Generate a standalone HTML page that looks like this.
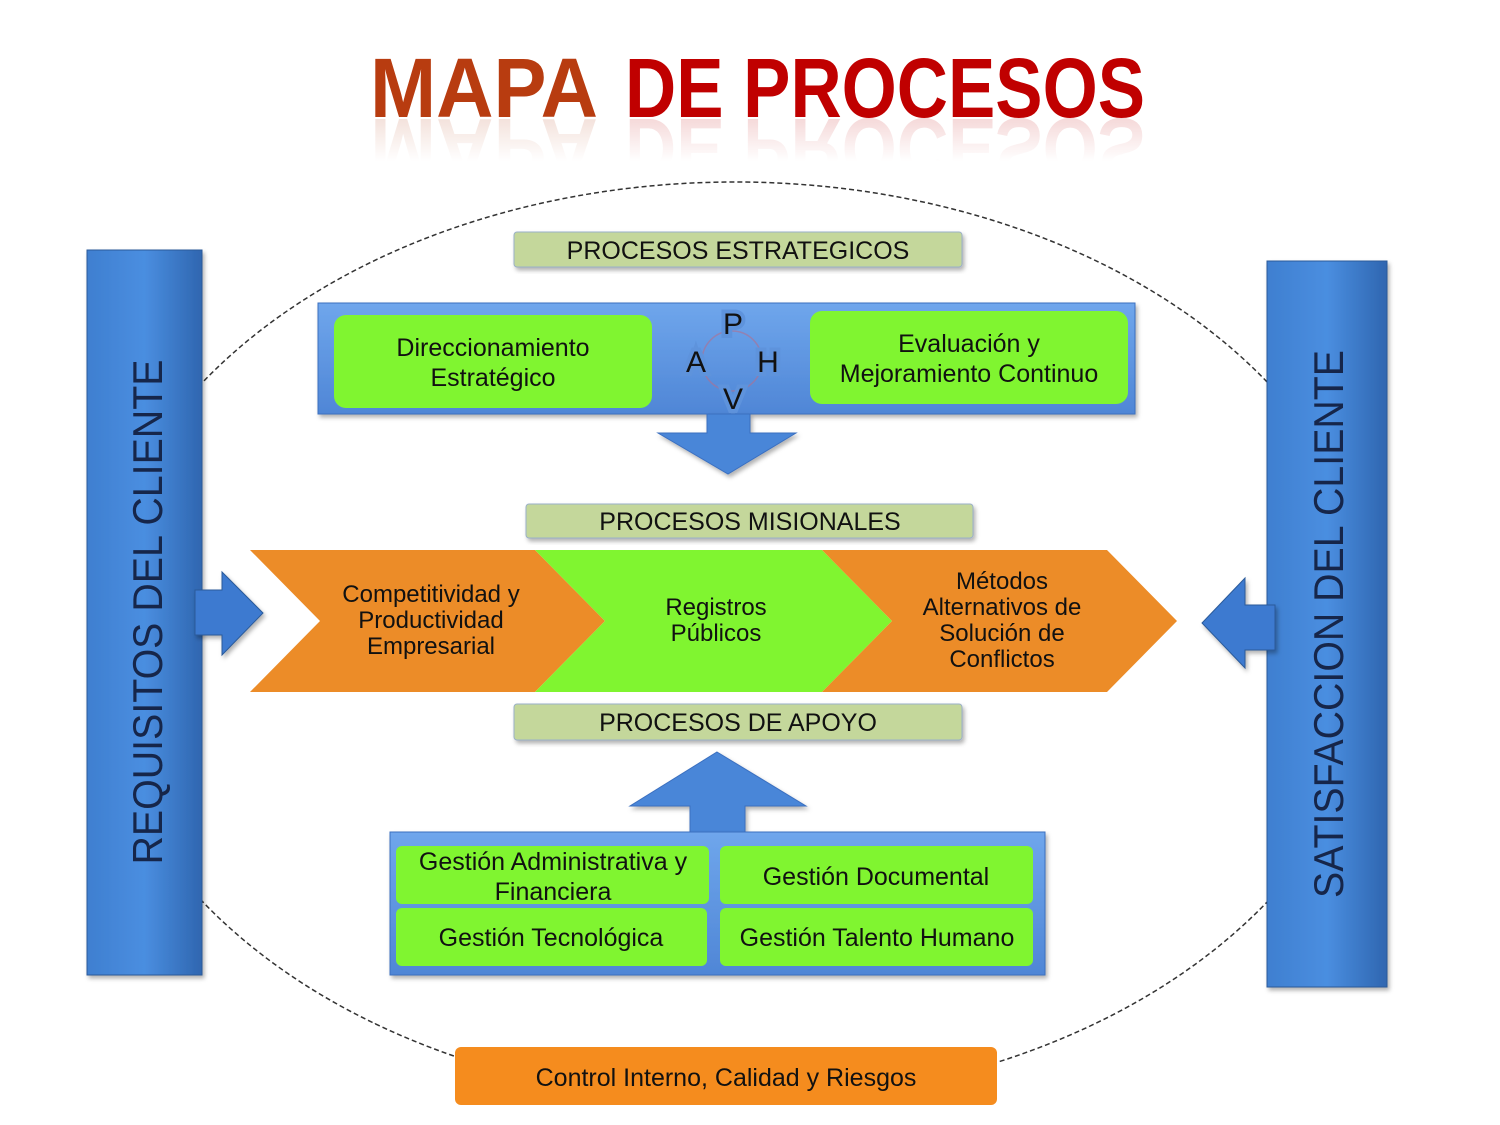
<!DOCTYPE html>
<html><head><meta charset="utf-8"><style>
html,body{margin:0;padding:0;background:#fff;}
svg{display:block;}
text{font-family:"Liberation Sans",sans-serif;}
</style></head><body>
<svg width="1500" height="1125" viewBox="0 0 1500 1125" xmlns="http://www.w3.org/2000/svg">
<defs>
<linearGradient id="bar" x1="0" y1="0" x2="1" y2="0">
<stop offset="0" stop-color="#3f7fd0"/><stop offset="0.5" stop-color="#4a8ee0"/><stop offset="1" stop-color="#2f66b0"/></linearGradient>
<linearGradient id="box" x1="0" y1="0" x2="0" y2="1">
<stop offset="0" stop-color="#6fa6ec"/><stop offset="1" stop-color="#4f86d6"/></linearGradient>
<linearGradient id="refl" x1="0" y1="0" x2="0" y2="1">
<stop offset="0" stop-color="#fff" stop-opacity="0.2"/><stop offset="0.7" stop-color="#fff" stop-opacity="1"/><stop offset="1" stop-color="#fff" stop-opacity="1"/></linearGradient>
<filter id="sh" x="-10%" y="-10%" width="130%" height="130%"><feDropShadow dx="2" dy="3" stdDeviation="2" flood-color="#000" flood-opacity="0.3"/></filter>
</defs>

<!-- Title -->
<g font-weight="bold" font-size="84">
<text x="370" y="117" fill="#b83c10" textLength="228" lengthAdjust="spacingAndGlyphs">MAPA</text>
<text x="625" y="117" fill="#c00000" textLength="520" lengthAdjust="spacingAndGlyphs">DE PROCESOS</text>
<g transform="translate(0,236) scale(1,-1)" opacity="0.18">
<text x="370" y="117" fill="#b83c10" textLength="228" lengthAdjust="spacingAndGlyphs">MAPA</text>
<text x="625" y="117" fill="#c00000" textLength="520" lengthAdjust="spacingAndGlyphs">DE PROCESOS</text>
</g>
</g>
<rect x="360" y="119" width="800" height="60" fill="url(#refl)"/>

<!-- dashed ellipse -->
<ellipse cx="735" cy="642" rx="645" ry="460" fill="none" stroke="#333" stroke-width="1.5" stroke-dasharray="5,3"/>

<!-- side bars -->
<rect x="87" y="250" width="115" height="725" fill="url(#bar)" stroke="#2a5a9a" filter="url(#sh)"/>
<text transform="translate(162,612) rotate(-90)" text-anchor="middle" font-size="42" fill="#16264a" textLength="505" lengthAdjust="spacingAndGlyphs">REQUISITOS DEL CLIENTE</text>
<rect x="1267" y="261" width="120" height="726" fill="url(#bar)" stroke="#2a5a9a" filter="url(#sh)"/>
<text transform="translate(1343,624) rotate(-90)" text-anchor="middle" font-size="42" fill="#16264a" textLength="548" lengthAdjust="spacingAndGlyphs">SATISFACCION DEL CLIENTE</text>

<!-- side arrows -->
<polygon points="195,590 222,590 222,572 263,613 222,655 222,635 195,635" fill="#3c7ad0" stroke="#2a5a9a" filter="url(#sh)"/>
<polygon points="1275,605 1245,605 1245,578 1202,623 1245,668 1245,650 1275,650" fill="#3c7ad0" stroke="#2a5a9a" filter="url(#sh)"/>

<!-- strategic -->
<rect x="514" y="232" width="448" height="35" rx="3" fill="#c4d79b" stroke="#9ab0c8" filter="url(#sh)"/>
<text x="738" y="259" text-anchor="middle" font-size="25" fill="#111">PROCESOS ESTRATEGICOS</text>
<rect x="318" y="303" width="817" height="111" fill="url(#box)" stroke="#3a6fc0" filter="url(#sh)"/>
<rect x="334" y="315" width="318" height="93" rx="12" fill="#80f530"/>
<text x="493" y="356" text-anchor="middle" font-size="25" fill="#111">Direccionamiento</text>
<text x="493" y="386" text-anchor="middle" font-size="25" fill="#111">Estratégico</text>
<rect x="810" y="311" width="318" height="93" rx="12" fill="#80f530"/>
<text x="969" y="352" text-anchor="middle" font-size="25" fill="#111">Evaluación y</text>
<text x="969" y="382" text-anchor="middle" font-size="25" fill="#111">Mejoramiento Continuo</text>
<circle cx="732" cy="361" r="30" fill="none" stroke="#b07090" stroke-width="1.5" opacity="0.6"/>
<g font-size="30" fill="#111" text-anchor="middle">
<text x="733" y="334" style="paint-order:stroke" stroke="#5e93dc" stroke-width="8">P</text>
<text x="696" y="372" style="paint-order:stroke" stroke="#5e93dc" stroke-width="8">A</text>
<text x="768" y="372" style="paint-order:stroke" stroke="#5e93dc" stroke-width="8">H</text>
<text x="733" y="409" style="paint-order:stroke" stroke="#5e93dc" stroke-width="8">V</text>
</g>
<polygon points="707,414 750,414 750,433 796,433 728,474 658,433 707,433" fill="#4a86d8" stroke="#3a6fc0" filter="url(#sh)"/>

<!-- misionales -->
<rect x="526" y="504" width="447" height="34" rx="3" fill="#c4d79b" stroke="#9ab0c8" filter="url(#sh)"/>
<text x="750" y="530" text-anchor="middle" font-size="25" fill="#111">PROCESOS MISIONALES</text>
<polygon points="250,550 535,550 605,621 535,692 250,692 320,621" fill="#ec8c28"/>
<polygon points="535,550 822,550 892,621 822,692 535,692 605,621" fill="#80f530"/>
<polygon points="822,550 1107,550 1177,621 1107,692 822,692 892,621" fill="#ec8c28"/>
<g font-size="24" fill="#111" text-anchor="middle">
<text x="431" y="602">Competitividad y</text>
<text x="431" y="628">Productividad</text>
<text x="431" y="654">Empresarial</text>
<text x="716" y="615">Registros</text>
<text x="716" y="641">Públicos</text>
<text x="1002" y="589">Métodos</text>
<text x="1002" y="615">Alternativos de</text>
<text x="1002" y="641">Solución de</text>
<text x="1002" y="667">Conflictos</text>
</g>

<!-- apoyo -->
<rect x="514" y="704" width="448" height="36" rx="3" fill="#c4d79b" stroke="#9ab0c8" filter="url(#sh)"/>
<text x="738" y="731" text-anchor="middle" font-size="25" fill="#111">PROCESOS DE APOYO</text>
<polygon points="717,752 806,806 745,806 745,832 690,832 690,806 630,806" fill="#4a86d8" stroke="#3a6fc0" filter="url(#sh)"/>
<rect x="390" y="832" width="655" height="143" fill="url(#box)" stroke="#3a6fc0" filter="url(#sh)"/>
<rect x="396" y="846" width="313" height="58" rx="6" fill="#80f530"/>
<rect x="720" y="846" width="313" height="58" rx="6" fill="#80f530"/>
<rect x="396" y="908" width="311" height="58" rx="6" fill="#80f530"/>
<rect x="720" y="908" width="313" height="58" rx="6" fill="#80f530"/>
<g font-size="25" fill="#111" text-anchor="middle">
<text x="553" y="870">Gestión Administrativa y</text>
<text x="553" y="900">Financiera</text>
<text x="876" y="885">Gestión Documental</text>
<text x="551" y="946">Gestión Tecnológica</text>
<text x="877" y="946">Gestión Talento Humano</text>
</g>

<!-- bottom -->
<rect x="455" y="1047" width="542" height="58" rx="6" fill="#f58c1e"/>
<text x="726" y="1086" text-anchor="middle" font-size="25" fill="#111">Control Interno, Calidad y Riesgos</text>
</svg>
</body></html>
